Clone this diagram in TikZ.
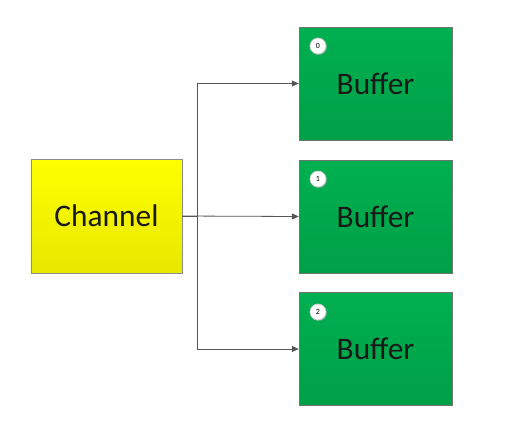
\documentclass[tikz,border=0pt]{standalone}
\usepackage{fontspec}
\setmainfont{Carlito}
\usetikzlibrary{arrows.meta,shadows}
\definecolor{grtop}{HTML}{00B050}
\definecolor{grbot}{HTML}{00A047}
\definecolor{yltop}{HTML}{FFFF00}
\definecolor{ylbot}{HTML}{E8E800}
\definecolor{linegray}{HTML}{555555}
\tikzset{
  bufbox/.style={draw=black!55, top color=grtop, bottom color=grbot, minimum width=153bp, minimum height=113bp, inner sep=0pt, font=\fontsize{31.5}{31.5}\selectfont, text=black!90},
  chanbox/.style={draw=black!45, top color=yltop, bottom color=ylbot, minimum width=151bp, minimum height=114bp, inner sep=0pt, font=\fontsize{31.5}{31.5}\selectfont, text=black!90},
  badge/.style={circle, fill=white, draw=black!20, line width=0.8pt, minimum size=16bp, inner sep=0pt, font=\fontsize{8}{8}\selectfont,
    drop shadow={shadow xshift=1bp, shadow yshift=-1bp, fill=black!35}},
  conn/.style={draw=linegray, line width=0.8bp, -{Triangle[length=7bp,width=6bp]}}
}
\begin{document}
\begin{tikzpicture}[x=1bp,y=-1bp]
\useasboundingbox (0,0) rectangle (532,425);
\node[chanbox] (ch) at (106.5,216) {Channel};
\node[bufbox] (b0) at (375.5,83.5) {Buffer};
\node[bufbox] (b1) at (375.5,216.5) {Buffer};
\node[bufbox] (b2) at (375.5,349) {Buffer};
\node[badge] (c0) at (318,46) {0};
\node[badge] (c1) at (318,179) {1};
\node[badge] (c2) at (318,312) {2};
\coordinate (j) at (197,216);
\draw[conn] (ch.east) -- (j) |- (b0.west);
\draw[conn] (ch.east) -- (b1.west);
\draw[conn] (j) |- (b2.west);
\end{tikzpicture}
\end{document}
